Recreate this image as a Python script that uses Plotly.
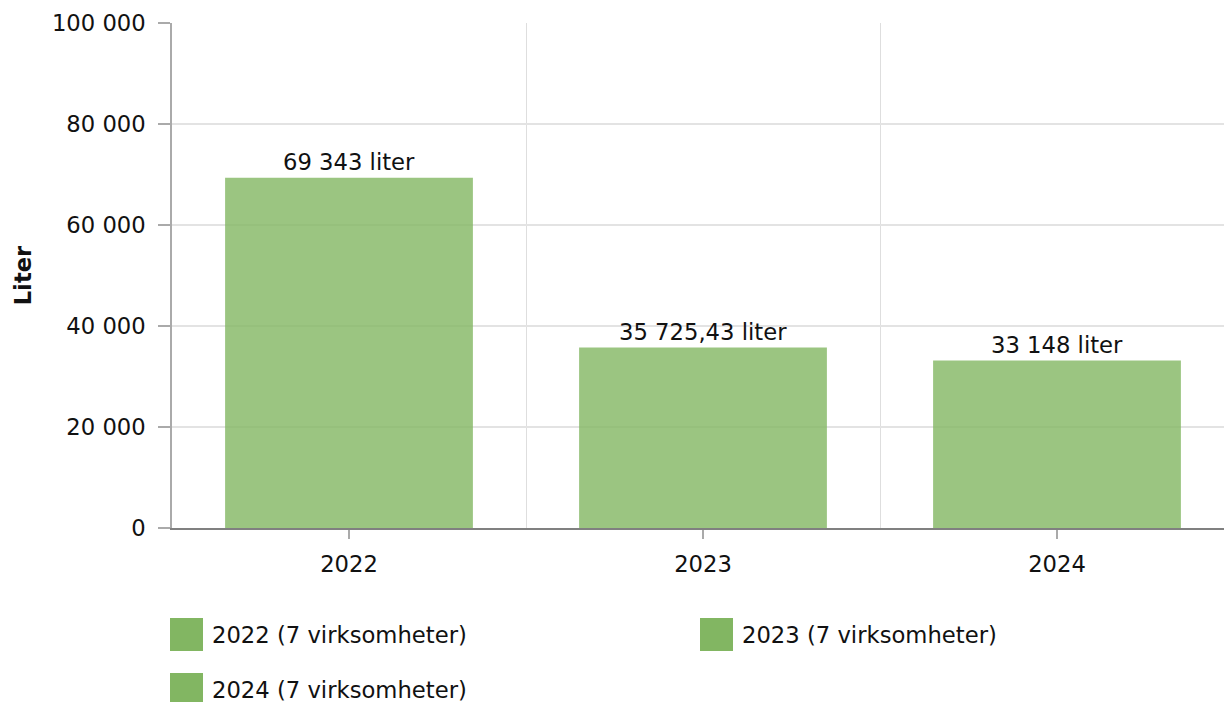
import plotly.graph_objects as go

# ---- data ----
years = ["2022", "2023", "2024"]
values = [69343, 35725.43, 33148]
series_names = ["2022 (7 virksomheter)", "2023 (7 virksomheter)", "2024 (7 virksomheter)"]
y_ticks = [0, 20000, 40000, 60000, 80000, 100000]
unit = "liter"
y_title = "Liter"

BASE = "#82b662"
FONT = "DejaVu Sans"
FS = 22.7

W, H = 1225, 702
ML, MR, MT, MB = 172, 1, 23, 174
PW = W - ML - MR
PH = H - MT - MB
CAT_PX = 354  # category slot width in the reference (plot runs past the right edge)
X_MAX = -0.5 + PW / CAT_PX


def fmt_no(v):
    if abs(v - round(v)) < 1e-9:
        s = f"{int(round(v)):,}".replace(",", " ")
    else:
        s = f"{v:,.2f}".replace(",", " ").replace(".", ",")
    return s


fig = go.Figure()
xs = list(range(len(years)))
for i, (x, v, name) in enumerate(zip(xs, values, series_names)):
    fig.add_trace(go.Bar(
        x=[x], y=[v], name=name, width=0.7,
        marker=dict(color=BASE, opacity=0.8, line=dict(width=0)),
        showlegend=False, hoverinfo="skip",
    ))
    fig.add_annotation(
        x=x, y=v, xref="x", yref="y", text=f"{fmt_no(v)} {unit}",
        showarrow=False, yanchor="bottom", yshift=1,
        font=dict(family=FONT, size=FS, color="#111"),
    )


# custom legend (large swatches); positions given in page pixels
def px_x(p):
    return (p - ML) / PW


def px_y(p):
    return (H - MB - p) / PH


legend_pos = [(170, 618), (700, 618), (170, 673)]
for name, (lx, ly) in zip(series_names, legend_pos):
    fig.add_shape(type="rect", xref="paper", yref="paper",
                  x0=px_x(lx), x1=px_x(lx + 33), y0=px_y(ly + 33), y1=px_y(ly),
                  fillcolor=BASE, line=dict(width=0), layer="above")
    fig.add_annotation(xref="paper", yref="paper", x=px_x(lx + 40), y=px_y(ly + 17),
                       xanchor="left", yanchor="middle", text=name, showarrow=False,
                       font=dict(family=FONT, size=FS, color="#111"))

fig.update_layout(
    width=W, height=H,
    margin=dict(l=ML, r=MR, t=MT, b=MB, autoexpand=False),
    paper_bgcolor="white", plot_bgcolor="white",
    barmode="overlay",
    separators=", ",
    font=dict(family=FONT, size=FS, color="#111"),
    showlegend=False,
    xaxis=dict(
        range=[-0.5, X_MAX], tickmode="array", tickvals=xs, ticktext=years,
        showgrid=False, zeroline=False,
        showline=True, linecolor="#808080", linewidth=2,
        ticks="outside", ticklen=9, tickcolor="#aaaaaa", tickwidth=1.5,
        ticklabelstandoff=6,
        minor=dict(tickmode="array", tickvals=[0.5, 1.5], showgrid=True,
                   gridcolor="#dedede", gridwidth=1, ticks=""),
        fixedrange=True,
    ),
    yaxis=dict(
        range=[0, 100000], tickmode="array", tickvals=y_ticks, tickformat=",d",
        showgrid=True, gridcolor="#e3e3e3", gridwidth=1.5, zeroline=False,
        showline=True, linecolor="#aaaaaa", linewidth=1.5,
        ticks="outside", ticklen=12, tickcolor="#aaaaaa", tickwidth=1.5,
        ticklabelstandoff=8,
        title=dict(text=f"<b>{y_title}</b>", standoff=14,
                   font=dict(family=FONT, size=FS, color="#111")),
        fixedrange=True,
    ),
)

# remove the default 8px page margin so the figure fills the window exactly
fig.write_html(
    "out.html",
    config={"displayModeBar": False},
    post_script="document.body.style.margin='0';"
                "document.documentElement.style.overflow='hidden';"
                "document.body.style.overflow='hidden';",
)
